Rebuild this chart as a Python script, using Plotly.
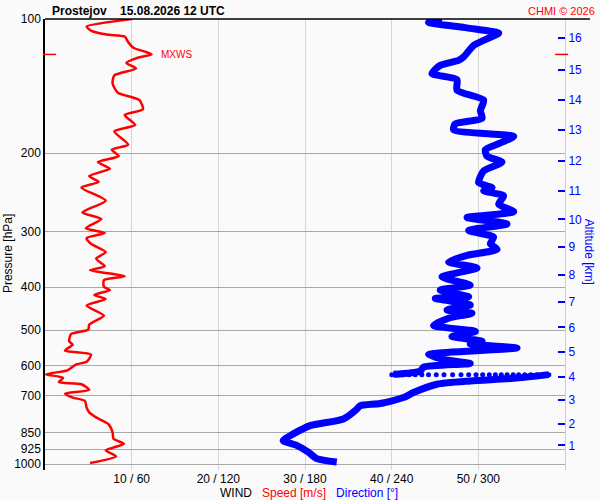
import numpy as np
import plotly.graph_objects as go

# wind speed profile (m/s) vs pressure (hPa)
speed_p = [100, 104, 106.2, 108.4, 109.5, 112.7, 116, 118.7, 120.1, 122.2, 125.5, 129.2,
           133.8, 139.6, 146.4, 152.1, 159.5, 164.3, 172.9, 178.8, 191.5, 196.5, 203.2,
           209.6, 216.9, 225.2, 232.2, 239.1, 255.9, 271.9, 281.4, 295.1, 302.3, 310.6,
           319.8, 333.7, 345.3, 359.1, 366.5, 378, 385.8, 399.3, 406.2, 416.7, 425.4,
           440.3, 463.4, 485.9, 498.6, 510, 529.6, 538.6, 555.4, 566.9, 588.8, 596.7,
           615.3, 628.1, 639.1, 653.4, 661.2, 680.8, 693.8, 708.2, 720.3, 745.5, 764.8,
           784.7, 811.8, 847.6, 876.8, 899.6, 930.8, 960, 993.4]
speed = [10.0, 4.8, 5.3, 7.1, 9.2, 9.6, 10.2, 11.7, 12.3, 10.7, 9.4, 10.5,
         8.0, 7.8, 8.4, 10.9, 11.3, 9.2, 10.4, 8.0, 9.6, 7.7, 8.5,
         6.1, 7.5, 5.1, 6.2, 4.2, 7.0, 4.3, 6.5, 4.7, 6.9, 4.8,
         5.3, 7.0, 5.9, 6.9, 5.2, 9.2, 6.8, 6.8, 7.5, 5.7, 7.0,
         4.8, 6.8, 5.1, 5.0, 3.0, 2.8, 3.2, 2.3, 5.3, 4.8, 3.6,
         2.6, 0.1, 2.1, 1.6, 4.2, 5.1, 2.3, 3.2, 4.6, 4.8, 5.1,
         5.9, 7.3, 7.8, 7.9, 9.1, 7.0, 8.2, 5.2]

# wind direction (deg), upper part
dir_p_upper = [100, 101.7, 104.7, 107.6, 110.8, 114.7, 121.7, 123.9, 127.1, 132.6, 136.8,
               144.5, 152.1, 160.6, 167.1, 172.0, 177.4, 183.5, 189.8, 196.5, 203.2, 209.6,
               219.4, 233.0, 239.1, 243.2, 249.5, 260.5, 270.9, 279.0, 288.6, 298.5, 309.0,
               319.8, 329.1, 339.4, 351.3, 362.2, 379.4, 395.9, 406.2, 420.4, 424.1, 438.6,
               450.0, 457.9, 469.8, 487.7, 503.0, 516.1, 529.6, 536.9, 548.0, 555.4, 566.9,
               581.6, 593.6, 605.0, 617.5, 628.1]
dir_upper = [274.8, 265.5, 292.2, 314.1, 306.0, 296.7, 289.8, 286.3, 273.6, 267.9, 285.2,
             285.2, 303.7, 301.4, 302.6, 284.0, 282.9, 324.5, 315.3, 304.9, 306.0, 316.4,
             303.7, 300.2, 309.5, 303.7, 317.5, 314.1, 324.5, 292.2, 319.9, 293.3, 310.6,
             308.3, 313.0, 292.2, 279.4, 299.1, 274.8, 294.4, 273.6, 293.3, 270.2, 294.4,
             278.3, 295.6, 279.4, 269.0, 297.9, 281.7, 302.6, 294.4, 326.8, 301.4, 265.5,
             275.9, 294.4, 262.1, 259.8, 241.2]

# sparse samples around 629 hPa
dir_row_p = 629
dir_row = [240.1, 243.8, 248.0, 252.1, 256.3, 260.9, 265.5, 270.9, 276.2, 282.2, 288.0,
           293.3, 298.4, 303.0, 307.6, 311.8, 315.9, 319.9, 324.1, 327.9, 332.1, 336.3,
           340.7, 344.6, 348.8]

# lower part
dir_p_lower = [629, 641.2, 650.1, 661.2, 690.2, 708.2, 730.4, 739.0, 751.6, 791.0, 818.8,
               854.5, 884.3, 907.1, 939.0, 971.2, 988.3]
dir_lower = [348.8, 324.5, 294.4, 271.3, 255.1, 248.2, 232.0, 218.1, 215.9, 206.6, 183.5,
             171.9, 164.9, 174.2, 182.3, 188.1, 202.0]

p_ticks = [100, 200, 300, 400, 500, 600, 700, 850, 925, 1000]
wind_ticks = [10, 20, 30, 40, 50]
wind_labels = ["10 / 60", "20 / 120", "30 / 180", "40 / 240", "50 / 300"]
alt_km = ["1", "2", "3", "4", "5", "6", "7", "8", "9", "10", "11", "12", "13", "14", "15", "16"]
alt_p = [907.1, 810.2, 716.5, 636.8, 560.3, 492.7, 431.2, 375.4, 325.3, 281.8, 242.8,
         208.2, 177.6, 152.2, 129.9, 110.2]
mxws_p = 120.1
mxws_speed = 12.3

RED = "#ff0000"
BLUE = "#0000ff"
BG = "#fafafa"
FONT = "Liberation Sans"

fig = go.Figure()

fig.add_trace(go.Scatter(x=speed, y=speed_p, mode="lines",
                         line=dict(color=RED, width=2.5, shape="spline", smoothing=0.6),
                         hoverinfo="skip"))
fig.add_trace(go.Scatter(x=dir_upper, y=dir_p_upper, mode="lines", xaxis="x2",
                         line=dict(color=BLUE, width=7, shape="spline", smoothing=0.6),
                         hoverinfo="skip"))
fig.add_trace(go.Scatter(x=dir_row, y=[dir_row_p] * len(dir_row), mode="markers", xaxis="x2",
                         marker=dict(color=BLUE, size=5), hoverinfo="skip"))
fig.add_trace(go.Scatter(x=dir_lower, y=dir_p_lower, mode="lines", xaxis="x2",
                         line=dict(color=BLUE, width=7, shape="spline", smoothing=0.6),
                         hoverinfo="skip"))
# dummy for altitude axis
fig.add_trace(go.Scatter(x=[None], y=[None], yaxis="y2", showlegend=False, hoverinfo="skip"))

p_range = [np.log10(1030), 2]

fig.update_layout(
    width=600, height=500,
    margin=dict(l=45, r=35, t=15, b=30),
    paper_bgcolor=BG, plot_bgcolor=BG,
    showlegend=False,
    font=dict(family=FONT, size=12, color="black"),
    xaxis=dict(range=[0, 60], tickvals=wind_ticks, ticktext=wind_labels,
               showgrid=True, gridcolor="#d6d6d6", gridwidth=1, zeroline=False,
               showline=False, ticks="", tickfont=dict(size=12)),
    xaxis2=dict(range=[0, 360], overlaying="x", visible=False),
    yaxis=dict(type="log", range=p_range, tickvals=p_ticks,
               ticktext=[str(v) for v in p_ticks], showgrid=True, gridcolor="#a8a8a8",
               gridwidth=1, zeroline=False, showline=True, linecolor="black", linewidth=1.5,
               ticks="", tickfont=dict(size=12)),
    yaxis2=dict(type="log", range=p_range, overlaying="y", side="right", anchor="x",
                tickvals=alt_p, ticktext=alt_km, ticks="inside", ticklen=7, tickwidth=1.5,
                tickcolor=BLUE, tickfont=dict(color=BLUE, size=12), showgrid=False,
                zeroline=False, showline=True, linecolor="#d0d0d0", linewidth=1),
)

# top border and MXWS markers
fig.add_shape(type="line", xref="paper", yref="paper", x0=0, x1=1.048, y0=1, y1=1,
              line=dict(color="black", width=1.5))
fig.add_shape(type="line", xref="paper", yref="y", x0=-0.004, x1=0.021, y0=mxws_p, y1=mxws_p,
              line=dict(color=RED, width=1.5))
fig.add_shape(type="line", xref="paper", yref="y", x0=0.981, x1=1.006, y0=mxws_p, y1=mxws_p,
              line=dict(color=RED, width=1.5))

fig.add_annotation(x=mxws_speed + 0.9, y=np.log10(mxws_p), xref="x", yref="y", text="MXWS",
                   showarrow=False, xanchor="left", yanchor="middle",
                   font=dict(color=RED, size=10))

# titles
fig.add_annotation(x=0.0096, y=1.0176, xref="paper", yref="paper",
                   text="<b>Prostejov&nbsp;&nbsp;&nbsp;&nbsp;15.08.2026 12 UTC</b>",
                   showarrow=False, xanchor="left", yanchor="middle", font=dict(size=12))
fig.add_annotation(x=1.061, y=1.0176, xref="paper", yref="paper", text="CHMI © 2026",
                   showarrow=False, xanchor="right", yanchor="middle",
                   font=dict(color=RED, size=11))
fig.add_annotation(x=-0.071, y=0.479, xref="paper", yref="paper", text="Pressure [hPa]",
                   textangle=-90, showarrow=False, xanchor="center", yanchor="middle",
                   font=dict(size=12))
fig.add_annotation(x=1.046, y=0.484, xref="paper", yref="paper", text="Altitude [km]",
                   textangle=90, showarrow=False, xanchor="center", yanchor="middle",
                   font=dict(color=BLUE, size=12))
fig.add_annotation(x=0.508, y=-0.05, xref="paper", yref="paper",
                   text="WIND&nbsp;&nbsp;&nbsp;<span style='color:#ff0000'>Speed [m/s]</span>"
                        "&nbsp;&nbsp;&nbsp;<span style='color:#0000ff'>Direction [°]</span>",
                   showarrow=False, xanchor="center", yanchor="middle", font=dict(size=12))

fig.write_html("out.html", config={"displayModeBar": False},
               post_script="document.body.style.margin='0px';")
